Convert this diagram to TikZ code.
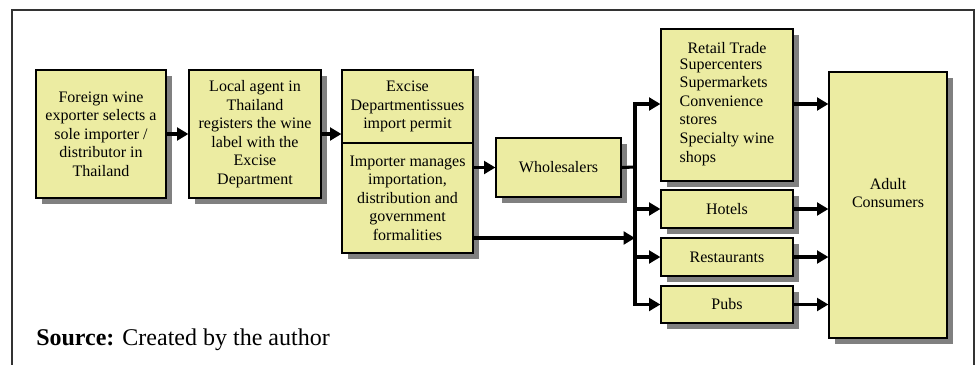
\documentclass[tikz,border=0pt]{standalone}
\usepackage{fontspec}
\setmainfont{Liberation Serif}
\usetikzlibrary{arrows.meta,shadows}
\definecolor{boxfill}{HTML}{ECECA2}
\definecolor{shadowgray}{HTML}{808080}
\definecolor{framegray}{HTML}{333333}
\tikzset{
  flowbox/.style={draw=black, line width=0.9pt, fill=boxfill, inner sep=2pt,
    align=center, font=\rmfamily\fontsize{12}{13.9}\selectfont,
    general shadow={fill=shadowgray, shadow xshift=4.5pt, shadow yshift=-4.5pt}},
  arr/.style={line width=2.3pt, -{Triangle[length=8.5pt,width=9.5pt]}},
  plainline/.style={line width=2.3pt},
}
\begin{document}
\begin{tikzpicture}[x=0.75pt,y=-0.75pt]
\useasboundingbox (0,0) rectangle (977,364);
\draw[framegray, line width=1.7pt] (12,372) -- (12,10) -- (974,10) -- (974,372);

\node[flowbox, minimum width=97.5pt, minimum height=96pt] (b1) at (101,134)
  {Foreign wine\\exporter selects a\\sole importer /\\distributor in\\Thailand};
\node[flowbox, minimum width=99pt, minimum height=96pt] (b2) at (255,134)
  {Local agent in\\Thailand\\registers the wine\\label with the\\Excise\\Department};
\node[flowbox, minimum width=98.25pt, minimum height=54.75pt] (b3t) at (407.5,106.5)
  {Excise\\Departmentissues\\import permit};
\node[flowbox, minimum width=98.25pt, minimum height=82.5pt] (b3b) at (407.5,198)
  {Importer manages\\importation,\\distribution and\\government\\formalities};
\node[flowbox, minimum width=93.75pt, minimum height=44.25pt] (wh) at (558.5,167.5)
  {Wholesalers};
\node[flowbox, minimum width=99pt, minimum height=114pt] (rt) at (727,105)
  {Retail Trade\\[1pt]
   \begin{tabular}{@{}l@{}}Supercenters\\Supermarkets\\Convenience\\stores\\Specialty wine\\shops\end{tabular}};
\node[flowbox, minimum width=99pt, minimum height=28.5pt] (ho) at (727,209) {Hotels};
\node[flowbox, minimum width=99pt, minimum height=28.5pt] (re) at (727,257) {Restaurants};
\node[flowbox, minimum width=99pt, minimum height=27.75pt] (pu) at (727,304.5) {Pubs};
\node[flowbox, minimum width=88.5pt, minimum height=199.5pt,
  label={[align=center, font=\rmfamily\fontsize{12}{13.9}\selectfont, yshift=9pt]center:Adult\\Consumers}] (ad) at (888,205) {};

\node[anchor=base west, font=\rmfamily\fontsize{18}{20}\selectfont, inner sep=0pt] (src) at (36,345)
  {\textbf{Source:} Created by the author};

\coordinate (split) at (635,167);
\coordinate (imp2) at (473,238);

\draw[arr] (b1.east) -- (b2.west |- b1.east);
\draw[arr] (b2.east) -- (b2.east -| b3t.west);
\draw[arr] (b3b.east |- wh.west) -- (wh.west);
\draw[plainline] (wh.east) -- (split);
\draw[arr] (imp2) -- (imp2 -| split);
\draw[arr] (split) |- ([yshift=0.75pt]rt.west);
\draw[arr] (split) |- (pu.west);
\draw[arr] (split |- ho.west) -- (ho.west);
\draw[arr] (split |- re.west) -- (re.west);
\draw[arr] ([yshift=0.75pt]rt.east) -- ([yshift=0.75pt]rt.east -| ad.west);
\draw[arr] (ho.east) -- (ho.east -| ad.west);
\draw[arr] (re.east) -- (re.east -| ad.west);
\draw[arr] (pu.east) -- (pu.east -| ad.west);
\end{tikzpicture}
\end{document}
